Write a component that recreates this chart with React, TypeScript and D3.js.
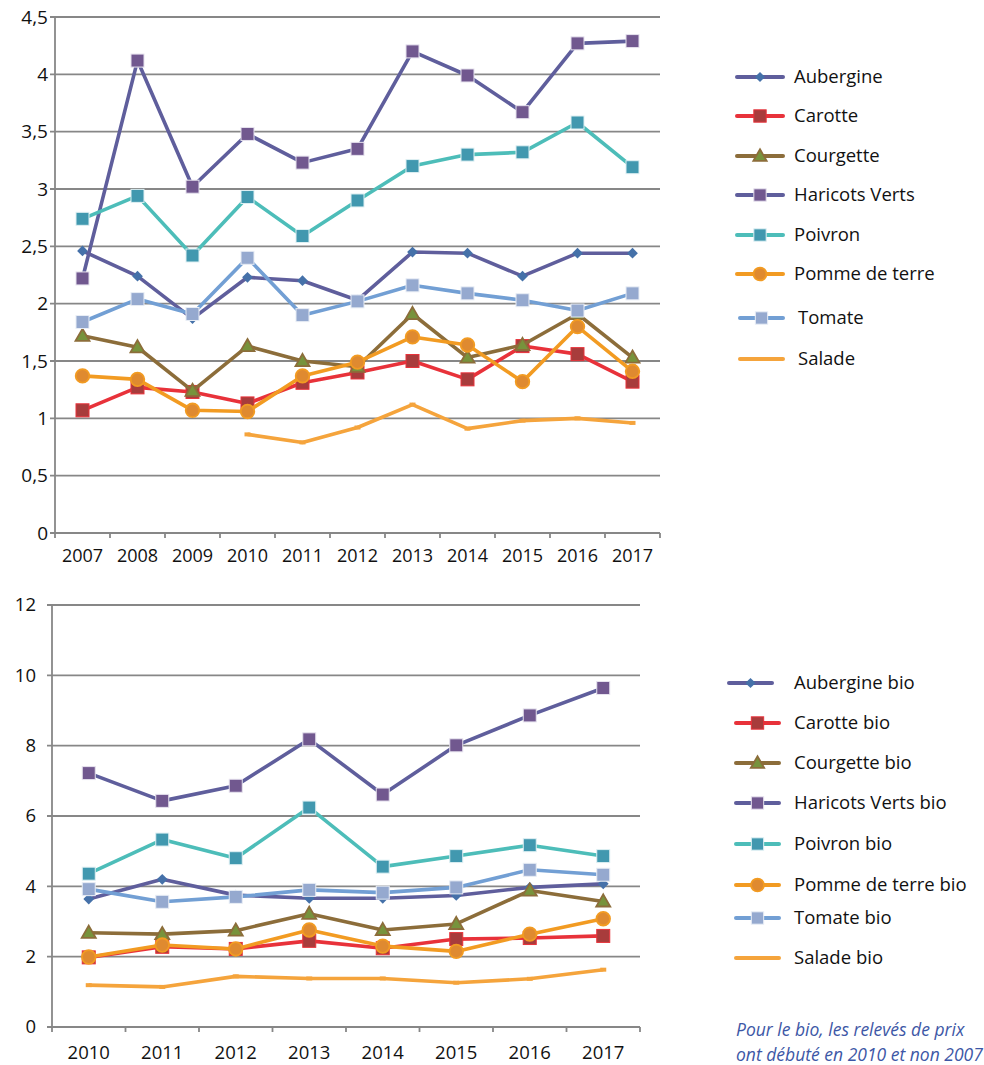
import React from "react";
import * as d3 from "d3";

// years
const yearsStd = ["2007", "2008", "2009", "2010", "2011", "2012", "2013", "2014", "2015", "2016", "2017"];
const yearsBio = ["2010", "2011", "2012", "2013", "2014", "2015", "2016", "2017"];

// conventional prices
const aubergine = [2.46, 2.24, 1.87, 2.23, 2.2, 2.03, 2.45, 2.44, 2.24, 2.44, 2.44];
const carotte = [1.07, 1.27, 1.23, 1.13, 1.31, 1.4, 1.5, 1.34, 1.63, 1.56, 1.32];
const courgette = [1.72, 1.62, 1.24, 1.63, 1.5, 1.45, 1.91, 1.53, 1.64, 1.91, 1.53];
const haricots = [2.22, 4.12, 3.02, 3.48, 3.23, 3.35, 4.2, 3.99, 3.67, 4.27, 4.29];
const poivron = [2.74, 2.94, 2.42, 2.93, 2.59, 2.9, 3.2, 3.3, 3.32, 3.58, 3.19];
const pomme = [1.37, 1.34, 1.07, 1.06, 1.37, 1.49, 1.71, 1.64, 1.32, 1.8, 1.41];
const tomate = [1.84, 2.04, 1.91, 2.4, 1.9, 2.02, 2.16, 2.09, 2.03, 1.94, 2.09];
const salade = [null, null, null, 0.86, 0.79, 0.92, 1.12, 0.91, 0.98, 1.0, 0.96];

// bio prices
const aubergineBio = [3.64, 4.2, 3.75, 3.66, 3.66, 3.74, 3.97, 4.07];
const carotteBio = [1.98, 2.28, 2.22, 2.45, 2.24, 2.5, 2.53, 2.59];
const courgetteBio = [2.68, 2.64, 2.74, 3.22, 2.76, 2.93, 3.88, 3.57];
const haricotsBio = [7.22, 6.43, 6.86, 8.18, 6.61, 8.01, 8.86, 9.64];
const poivronBio = [4.36, 5.33, 4.8, 6.24, 4.56, 4.86, 5.17, 4.86];
const pommeBio = [1.99, 2.33, 2.22, 2.76, 2.3, 2.15, 2.64, 3.08];
const tomateBio = [3.92, 3.56, 3.7, 3.9, 3.82, 3.97, 4.47, 4.33];
const saladeBio = [1.19, 1.14, 1.44, 1.38, 1.38, 1.26, 1.37, 1.63];

const namesStd = ["Aubergine", "Carotte", "Courgette", "Haricots Verts", "Poivron", "Pomme de terre", "Tomate", "Salade"];
const namesBio = namesStd.map((n) => n + " bio");

const yTicksStd = [0, 0.5, 1, 1.5, 2, 2.5, 3, 3.5, 4, 4.5];
const yTicksBio = [0, 2, 4, 6, 8, 10, 12];

// styles per series (same order as names)
const styles = [
  { line: "#5f5e9c", fill: "#4571a9", stroke: "#4571a9", marker: "diamond" },
  { line: "#e8323a", fill: "#a83c3c", stroke: "#e8323a", marker: "square" },
  { line: "#8c6d3a", fill: "#77933c", stroke: "#8c6d3a", marker: "triangle" },
  { line: "#5f5e9c", fill: "#71588f", stroke: "#e6e2ee", marker: "square" },
  { line: "#4dbdb9", fill: "#4198af", stroke: "#dff0f3", marker: "square" },
  { line: "#f29b22", fill: "#df8a30", stroke: "#f29b22", marker: "circle" },
  { line: "#729fd4", fill: "#95a9cf", stroke: "#e8edf5", marker: "square" },
  { line: "#f5a43c", fill: "#f5a43c", stroke: "#f5a43c", marker: "dash" },
];

const FONT = "'Open Sans', 'Noto Sans', sans-serif";
const GRID = "#878787";
const INK = "#111";

const comma = (v: number) => String(v).replace(".", ",");

function Marker({ kind, x, y, fill, stroke, s = 1 }: any) {
  if (kind === "square")
    return <rect x={x - 6.5 * s} y={y - 6.5 * s} width={13 * s} height={13 * s} fill={fill} stroke={stroke} strokeWidth={1} />;
  if (kind === "diamond")
    return <path d={d3.symbol(d3.symbolSquare, 58 * s * s)()!} transform={`translate(${x},${y}) rotate(45)`} fill={fill} />;
  if (kind === "triangle")
    return <path d={d3.symbol(d3.symbolTriangle, 85 * s * s)()!} transform={`translate(${x},${y + 1})`} fill={fill} stroke={stroke} strokeWidth={1.8} />;
  if (kind === "circle") return <circle cx={x} cy={y} r={6.8 * s} fill={fill} stroke={stroke} strokeWidth={1.8} />;
  if (kind === "dash") return <rect x={x - 3} y={y - 2} width={6} height={4} fill={fill} />;
  return null;
}

function Chart({ years, series, names, ticks, max, x0, x1, yTop, yBottom, labelX, fs, yfs, xLabelY }: any) {
  const x = d3.scaleBand().domain(years).range([x0, x1]);
  const y = d3.scaleLinear().domain([0, max]).range([yBottom, yTop]);
  const cx = (d: string) => x(d)! + x.bandwidth() / 2;
  const line = d3
    .line<any>()
    .defined((d) => d.v != null)
    .x((d) => cx(d.year))
    .y((d) => y(d.v));
  return (
    <g>
      {ticks.map((t: number) => (
        <g key={t}>
          <line x1={x0 - 5} x2={x1} y1={y(t)} y2={y(t)} stroke={GRID} strokeWidth={1.8} />
          <text x={labelX} y={y(t)} dy="0.35em" textAnchor="end" fontSize={yfs} fontFamily={FONT} fill={INK}>
            {comma(t)}
          </text>
        </g>
      ))}
      <line x1={x0} x2={x0} y1={yTop} y2={yBottom + 5} stroke={GRID} strokeWidth={1.8} />
      {years.map((yr: string) => (
        <g key={yr}>
          <line x1={x(yr)! + x.bandwidth()} x2={x(yr)! + x.bandwidth()} y1={yBottom} y2={yBottom + 5} stroke={GRID} strokeWidth={1.8} />
          <text x={cx(yr)} y={xLabelY} dy="0.35em" textAnchor="middle" fontSize={fs} fontFamily={FONT} fill={INK}>
            {yr}
          </text>
        </g>
      ))}
      {series.map((vals: (number | null)[], i: number) => {
        const st = styles[i];
        const pts = vals.map((v, j) => ({ year: years[j], v }));
        return (
          <g key={names[i]}>
            <path d={line(pts)!} fill="none" stroke={st.line} strokeWidth={3.6} strokeLinejoin="round" />
            {pts
              .filter((p) => p.v != null)
              .map((p) => (
                <Marker key={p.year} kind={st.marker} x={cx(p.year)} y={y(p.v as number)} fill={st.fill} stroke={st.stroke} />
              ))}
          </g>
        );
      })}
    </g>
  );
}

function Legend({ names, rows, lineX, textX, fs }: any) {
  return (
    <g>
      {names.map((n: string, i: number) => {
        const st = styles[i];
        const [a, b] = lineX[i];
        const yy = rows[i];
        return (
          <g key={n}>
            <line x1={a} x2={b} y1={yy} y2={yy} stroke={st.line} strokeWidth={4} strokeLinecap="round" />
            {st.marker !== "dash" && <Marker kind={st.marker} x={(a + b) / 2} y={yy} fill={st.fill} stroke={st.stroke} s={0.95} />}
            <text x={textX[i]} y={yy} dy="0.35em" fontSize={fs} fontFamily={FONT} fill={INK}>
              {n}
            </text>
          </g>
        );
      })}
    </g>
  );
}

export default function App() {
  return (
    <div style={{ position: "absolute", left: 0, top: 0, background: "#fff" }}>
      <svg width={984} height={1065} style={{ display: "block", overflow: "hidden" }}>
        <rect width={984} height={1065} fill="#fff" />
        <Chart
          years={yearsStd}
          series={[aubergine, carotte, courgette, haricots, poivron, pomme, tomate, salade]}
          names={namesStd}
          ticks={yTicksStd}
          max={4.5}
          x0={55}
          x1={660}
          yTop={17}
          yBottom={533}
          labelX={48}
          fs={18}
          yfs={19}
          xLabelY={556}
        />
        <Legend
          names={namesStd}
          rows={[77, 116, 156, 195, 235, 274, 318, 359]}
          lineX={[[737, 783], [737, 783], [737, 783], [737, 783], [737, 783], [737, 783], [740, 783], [740, 783]]}
          textX={[794, 794, 794, 794, 794, 794, 798, 798]}
          fs={18.5}
        />
        <Chart
          years={yearsBio}
          series={[aubergineBio, carotteBio, courgetteBio, haricotsBio, poivronBio, pommeBio, tomateBio, saladeBio]}
          names={namesBio}
          ticks={yTicksBio}
          max={12}
          x0={52}
          x1={640}
          yTop={605}
          yBottom={1027}
          labelX={36}
          fs={18.5}
          yfs={18.5}
          xLabelY={1053}
        />
        <Legend
          names={namesBio}
          rows={[683, 723, 763, 803, 844, 885, 918, 958]}
          lineX={[[729, 772], [736, 779], [736, 779], [736, 779], [736, 779], [736, 779], [736, 779], [736, 779]]}
          textX={[794, 794, 794, 794, 794, 794, 794, 794]}
          fs={18.5}
        />
        <text x={736} y={1030} dy="0.35em" fontSize={17.5} fontStyle="italic" fontFamily={FONT} fill="#3d57a6">
          Pour le bio, les relevés de prix
        </text>
        <text x={736} y={1055} dy="0.35em" fontSize={17.5} fontStyle="italic" fontFamily={FONT} fill="#3d57a6">
          ont débuté en 2010 et non 2007
        </text>
      </svg>
    </div>
  );
}
